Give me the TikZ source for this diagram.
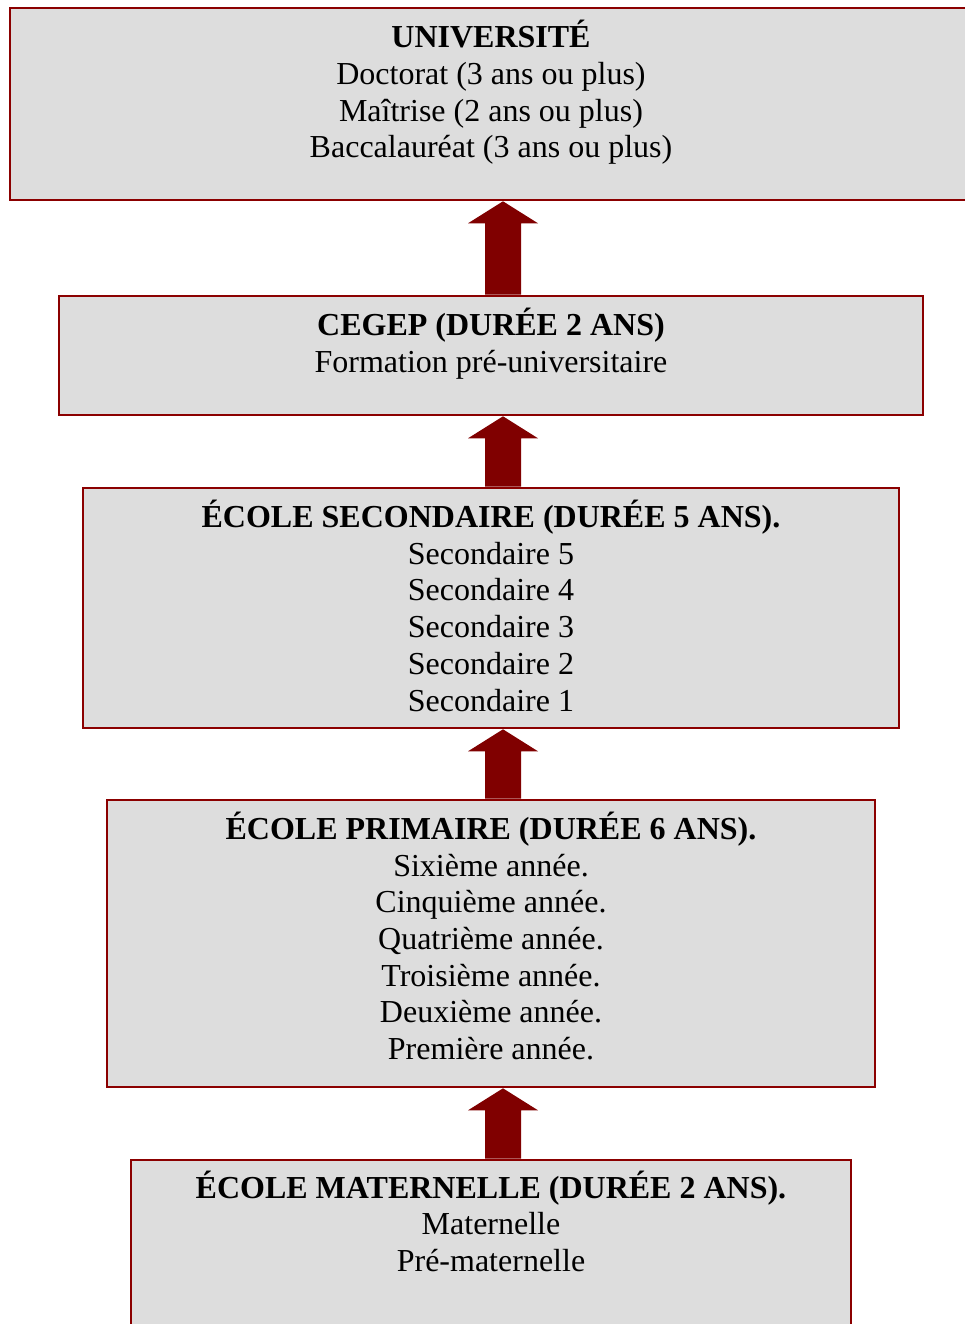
\documentclass[tikz,border=0pt]{standalone}
\usepackage{fontspec}
\setmainfont{Liberation Serif}
\usetikzlibrary{calc}
\definecolor{boxred}{RGB}{139,0,0}
\definecolor{arrred}{RGB}{128,0,0}
\definecolor{boxgray}{RGB}{221,221,221}
\tikzset{
  levelbox/.style={draw=boxred, line width=2.6pt, fill=boxgray, rectangle, inner sep=0pt},
  leveltext/.style={align=center, anchor=base, inner sep=0pt, font=\fontsize{32}{36.7}\selectfont},
  uparrow/.style={fill=arrred, draw=none}
}
\begin{document}
\begin{tikzpicture}[x=1pt,y=-1pt]
\useasboundingbox[fill=white] (0,0) rectangle (965,1324);
% boxes
\node[levelbox, minimum width=962pt, minimum height=192pt] (univ) at (491,104) {};
\node[levelbox, minimum width=864pt, minimum height=119pt] (cegep) at (491,355.5) {};
\node[levelbox, minimum width=816pt, minimum height=240pt] (second) at (491,608) {};
\node[levelbox, minimum width=768pt, minimum height=287pt] (prim) at (491,943.5) {};
\node[levelbox, minimum width=720pt, minimum height=200pt] (mat) at (491,1260) {};
% texts (anchor = baseline of the last line)
\node[leveltext] (univt) at (491,158) {\textbf{UNIVERSITÉ}\\Doctorat (3 ans ou plus)\\Maîtrise (2 ans ou plus)\\Baccalauréat (3 ans ou plus)};
\node[leveltext] (cegept) at (491,372) {\textbf{CEGEP (DURÉE 2 ANS)}\\Formation pré-universitaire};
\node[leveltext] (secondt) at (491,711) {\textbf{ÉCOLE SECONDAIRE (DURÉE 5 ANS).}\\Secondaire 5\\Secondaire 4\\Secondaire 3\\Secondaire 2\\Secondaire 1};
\node[leveltext] (primt) at (491,1059.5) {\textbf{ÉCOLE PRIMAIRE (DURÉE 6 ANS).}\\Sixième année.\\Cinquième année.\\Quatrième année.\\Troisième année.\\Deuxième année.\\Première année.};
\node[leveltext] (matt) at (491,1271.5) {\textbf{ÉCOLE MATERNELLE (DURÉE 2 ANS).}\\Maternelle\\Pré-maternelle};
% arrows
\coordinate (a1t) at ($(univ.south)+(12,0)$);
\coordinate (a1b) at ($(cegep.north)+(12,0)$);
\coordinate (a2t) at ($(cegep.south)+(12,0)$);
\coordinate (a2b) at ($(second.north)+(12,0)$);
\coordinate (a3t) at ($(second.south)+(12,0)$);
\coordinate (a3b) at ($(prim.north)+(12,0)$);
\coordinate (a4t) at ($(prim.south)+(12,0)$);
\coordinate (a4b) at ($(mat.north)+(12,0)$);
\foreach \b/\t in {a1b/a1t,a2b/a2t,a3b/a3t,a4b/a4t}{
  \fill[uparrow] ($(\b)+(-18,0)$) -- ($(\t)+(-18,22)$) -- ($(\t)+(-35,22)$)
    -- (\t) -- ($(\t)+(35,22)$) -- ($(\t)+(18,22)$) -- ($(\b)+(18,0)$) -- cycle;
}
\end{tikzpicture}
\end{document}
